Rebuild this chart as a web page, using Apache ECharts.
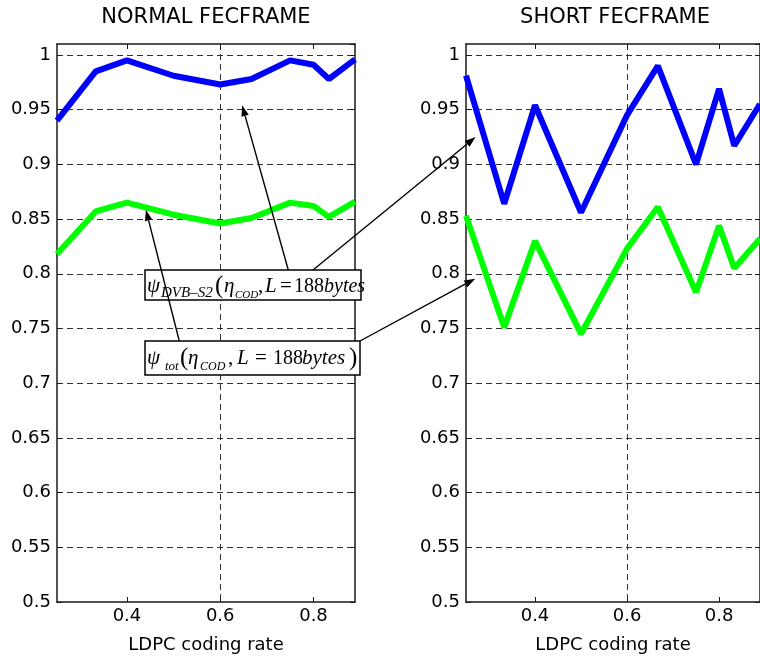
<!DOCTYPE html>
<html>
<head>
<meta charset="utf-8">
<script src="https://cdn.jsdelivr.net/npm/echarts@6/dist/echarts.min.js"></script>
<style>html,body{margin:0;padding:0;background:#fff}#c{width:760px;height:661px}</style>
</head>
<body>
<div id="c"></div>
<script>
// ---- data ----
const rates = [0.25, 0.333, 0.4, 0.5, 0.6, 0.667, 0.75, 0.8, 0.833, 0.889];
const normalDVB = [0.940, 0.985, 0.995, 0.981, 0.973, 0.978, 0.995, 0.991, 0.978, 0.996];
const normalTot = [0.818, 0.857, 0.865, 0.854, 0.846, 0.851, 0.865, 0.862, 0.852, 0.866];
const shortDVB  = [0.981, 0.864, 0.954, 0.856, 0.945, 0.990, 0.900, 0.969, 0.917, 0.955];
const shortTot  = [0.853, 0.751, 0.830, 0.745, 0.823, 0.861, 0.783, 0.844, 0.805, 0.832];
const xTicks = [0.4, 0.6, 0.8];
const titles = ['NORMAL FECFRAME', 'SHORT FECFRAME'];
const xName = 'LDPC coding rate';
// annotation arrow tips in data coordinates [grid, x, y]
const tipLeftDVB  = [0, 0.647, 0.954];
const tipLeftTot  = [0, 0.4406, 0.8585];
const tipRightDVB = [1, 0.271, 0.925];
const tipRightTot = [1, 0.270, 0.7955];

const pair = (xs, ys) => xs.map((x, i) => [x, ys[i]]);

const SANS = 'DejaVu Sans';
const SERIF = 'Liberation Serif';
const AX = '#1a1a1a';
const grids = [
  {left: 57, top: 44, width: 298, height: 558},
  {left: 466, top: 44, width: 298, height: 558}
];
const xAxes = [], yAxes = [];
grids.forEach((g, gi) => {
  xAxes.push({
    gridIndex: gi, type: 'value', min: 0.25, max: 0.889, position: 'bottom',
    axisLine: {show: true, onZero: false, lineStyle: {color: AX, width: 1.5}},
    axisTick: {show: true, inside: true, length: 5, customValues: xTicks, lineStyle: {color: AX}},
    axisLabel: {customValues: xTicks, margin: 5, color: '#000', fontFamily: SANS, fontSize: 18,
      formatter: v => v.toFixed(1)},
    splitLine: {show: true, showMinLine: false, showMaxLine: false,
      lineStyle: {color: '#333', width: 1, type: [6, 4]}},
    name: xName, nameLocation: 'middle', nameGap: 34,
    nameTextStyle: {color: '#000', fontFamily: SANS, fontSize: 18}
  });
  xAxes.push({
    gridIndex: gi, type: 'value', min: 0.25, max: 0.889, position: 'top',
    axisLine: {show: true, onZero: false, lineStyle: {color: AX, width: 1.5}},
    axisTick: {show: true, inside: true, length: 5, customValues: xTicks, lineStyle: {color: AX}},
    axisLabel: {show: false}, splitLine: {show: false}
  });
  yAxes.push({
    gridIndex: gi, type: 'value', min: 0.5, max: 1.01, interval: 0.05, position: 'left',
    axisLine: {show: true, onZero: false, lineStyle: {color: AX, width: 1.5}},
    axisTick: {show: true, inside: true, length: 5, lineStyle: {color: AX}},
    axisLabel: {showMaxLabel: false, margin: 6, color: '#000', fontFamily: SANS, fontSize: 18,
      formatter: v => String(+v.toFixed(2))},
    splitLine: {show: true, showMinLine: false, showMaxLine: false,
      lineStyle: {color: '#333', width: 1, type: [6, 4]}}
  });
  yAxes.push({
    gridIndex: gi, type: 'value', min: 0.5, max: 1.01, interval: 0.05, position: 'right',
    axisLine: {show: true, onZero: false, lineStyle: {color: AX, width: 1.5}},
    axisTick: {show: true, inside: true, length: 5, lineStyle: {color: AX}},
    axisLabel: {show: false}, splitLine: {show: false}
  });
});

const mkLine = (data, color, xi, yi) => ({
  type: 'line', data, xAxisIndex: xi, yAxisIndex: yi, showSymbol: false, symbol: 'none',
  lineStyle: {color, width: 6}, itemStyle: {color}, silent: true, animation: false, z: 5
});

const chart = echarts.init(document.getElementById('c'), null, {renderer: 'canvas'});
chart.setOption({
  backgroundColor: '#fff',
  animation: false,
  grid: grids,
  xAxis: xAxes,
  yAxis: yAxes,
  series: [
    mkLine(pair(rates, normalDVB), '#0000ff', 0, 0),
    mkLine(pair(rates, normalTot), '#00ff00', 0, 0),
    mkLine(pair(rates, shortDVB), '#0000ff', 2, 2),
    mkLine(pair(rates, shortTot), '#00ff00', 2, 2)
  ]
});

function tipPx(t) {
  const gi = t[0];
  return chart.convertToPixel({xAxisIndex: gi * 2, yAxisIndex: gi * 2}, [t[1], t[2]]);
}
function arrow(p0, p1) {
  const L = 11, W = 7.5;
  const dx = p1[0] - p0[0], dy = p1[1] - p0[1];
  const len = Math.hypot(dx, dy), ux = dx / len, uy = dy / len;
  const bx = p1[0] - ux * L, by = p1[1] - uy * L;
  const nx = -uy, ny = ux;
  return [
    {type: 'line', z: 200, shape: {x1: p0[0], y1: p0[1], x2: bx, y2: by},
      style: {stroke: '#000', lineWidth: 1.4}},
    {type: 'polygon', z: 200, shape: {points: [[p1[0], p1[1]], [bx + nx * W / 2, by + ny * W / 2], [bx - nx * W / 2, by - ny * W / 2]]},
      style: {fill: '#000'}}
  ];
}
function piece(text, x, baseline, size, italic) {
  return {type: 'text', z: 150, x: x, y: baseline,
    style: {text, fill: '#000', font: (italic ? 'italic ' : '') + size + 'px "' + SERIF + '"',
      align: 'left', verticalAlign: 'bottom'}};
}

const els = [];
titles.forEach((t, i) => {
  const g = grids[i];
  els.push({type: 'text', x: g.left + g.width / 2, y: 18, z: 50,
    style: {text: t, fill: '#000', font: '21px "' + SANS + '"', align: 'center', verticalAlign: 'middle'}});
});
// boxes
els.push({type: 'rect', z: 120, shape: {x: 145, y: 270, width: 216, height: 30},
  style: {fill: '#fff', stroke: '#000', lineWidth: 1.5}});
els.push({type: 'rect', z: 120, shape: {x: 145, y: 341, width: 215, height: 34},
  style: {fill: '#fff', stroke: '#000', lineWidth: 1.5}});
// box 1 text
const b1 = 297;
els.push(piece('ψ', 147, b1, 21, true));
els.push(piece('DVB–S2', 161, b1 + 4, 15, true));
els.push(piece('(', 215, b1 + 2, 25, false));
els.push(piece('η', 224, b1, 21, true));
els.push(piece('COD', 235, b1 + 4, 11, true));
els.push(piece(',', 258, b1, 21, false));
els.push(piece('L', 265, b1, 21, true));
els.push(piece('=', 280, b1, 21, false));
els.push(piece('188', 294, b1, 20, false));
els.push(piece('bytes', 324, b1, 20, true));
// box 2 text
const b2 = 369;
els.push(piece('ψ', 147, b2, 21, true));
els.push(piece('tot', 165, b2 + 4, 13, true));
els.push(piece('(', 180, b2 + 2, 25, false));
els.push(piece('η', 188, b2, 21, true));
els.push(piece('COD', 200, b2 + 4, 12, true));
els.push(piece(',', 228, b2, 21, false));
els.push(piece('L', 237, b2, 21, true));
els.push(piece('=', 255, b2, 21, false));
els.push(piece('188', 273, b2, 20, false));
els.push(piece('bytes', 302, b2, 21, true));
els.push(piece(')', 349, b2 + 2, 25, false));
// arrows
els.push(...arrow([288.3, 270], tipPx(tipLeftDVB)));
els.push(...arrow([313, 270], tipPx(tipRightDVB)));
els.push(...arrow([179.3, 341], tipPx(tipLeftTot)));
els.push(...arrow([360, 341], tipPx(tipRightTot)));

chart.setOption({graphic: {elements: els}});
</script>
</body>
</html>
